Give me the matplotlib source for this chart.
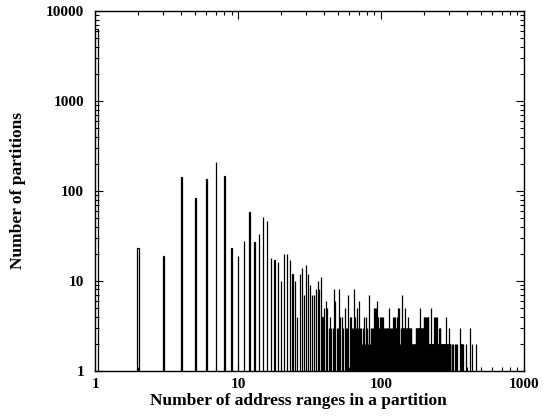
import matplotlib.pyplot as plt
import numpy as np
from matplotlib.ticker import NullFormatter, LogLocator

# number of partitions for each count of address ranges (1..306)
counts = [
    6300, 23, 19, 144, 83, 135, 210, 146, 23, 19,   # 1-10
    28, 58, 27, 33, 51, 46, 18, 17, 16, 10,         # 11-20
    20, 20, 17, 12, 10, 4, 12, 14, 7, 15,           # 21-30
    12, 9, 7, 7, 8, 10, 8, 11, 4, 5,                # 31-40
    6, 5, 3, 4, 3, 3, 8, 6, 3, 3,                   # 41-50
    8, 4, 4, 3, 1, 5, 3, 3, 7, 1,                   # 51-60
    4, 4, 3, 3, 8, 4, 3, 5, 3, 6,                   # 61-70
    3, 1, 3, 2, 3, 4, 2, 3, 4, 3,                   # 71-80
    2, 7, 3, 2, 3, 3, 2, 3, 5, 3,                   # 81-90
    5, 5, 3, 6, 4, 3, 3, 4, 3, 4,                   # 91-100
    4, 3, 3, 4, 3, 2, 3, 3, 2, 3,                   # 101-110
    3, 3, 5, 2, 3, 2, 3, 2, 3, 2,                   # 111-120
    4, 3, 3, 4, 3, 4, 3, 3, 4, 3,                   # 121-130
    5, 3, 5, 3, 2, 1, 1, 3, 2, 3,                   # 131-140
    7, 3, 3, 2, 3, 3, 3, 5, 3, 2,                   # 141-150
    3, 3, 2, 3, 4, 3, 2, 3, 3, 2,                   # 151-160
    3, 2, 3, 2, 2, 2, 1, 2, 2, 2,                   # 161-170
    2, 1, 2, 2, 2, 3, 3, 2, 3, 3,                   # 171-180
    2, 3, 3, 2, 3, 3, 3, 5, 3, 3,                   # 181-190
    2, 3, 3, 1, 1, 3, 2, 3, 3, 4,                   # 191-200
    4, 2, 4, 2, 2, 4, 2, 2, 4, 2,                   # 201-210
    2, 4, 2, 1, 4, 2, 2, 2, 2, 2,                   # 211-220
    2, 1, 2, 2, 5, 2, 2, 2, 1, 2,                   # 221-230
    2, 2, 2, 4, 2, 2, 1, 4, 2, 2,                   # 231-240
    4, 2, 2, 1, 4, 2, 2, 2, 1, 2,                   # 241-250
    2, 2, 2, 3, 2, 2, 3, 2, 1, 3,                   # 251-260
    2, 2, 1, 1, 2, 2, 2, 1, 2, 2,                   # 261-270
    1, 2, 2, 2, 1, 2, 2, 2, 2, 1,                   # 271-280
    2, 2, 4, 2, 2, 1, 2, 2, 2, 1,                   # 281-290
    2, 2, 2, 1, 2, 2, 2, 1, 2, 3,                   # 291-300
    2, 2, 1, 2, 2, 2,                               # 301-306
]

# sparse tail
tail_x = [312, 320, 328, 334, 341, 356, 366, 375, 396, 417, 435, 464]
tail_counts = [2, 2, 2, 2, 2, 3, 2, 2, 2, 3, 2, 2]

xs = list(range(1, len(counts) + 1)) + tail_x
ys = counts + tail_counts

tick_font = {'family': 'Liberation Serif', 'weight': 'bold', 'size': 11}
label_font = {'family': 'Liberation Serif', 'weight': 'bold', 'size': 12.5}

fig = plt.figure(figsize=(5.44, 4.19), dpi=100)
ax = fig.add_axes([0.175, 0.1153, 0.788, 0.8584])

ax.set_xscale('log')
ax.set_yscale('log')
ax.bar(xs, ys, width=0.08, color='white', edgecolor='black', linewidth=0.9)

ax.set_xlim(1, 1000)
ax.set_ylim(1, 10000)

ax.set_xticks([1, 10, 100, 1000])
ax.set_xticklabels(['1', '10', '100', '1000'], fontdict=tick_font)
ax.set_yticks([1, 10, 100, 1000, 10000])
ax.set_yticklabels(['1', '10', '100', '1000', '10000'], fontdict=tick_font)
ax.xaxis.set_minor_locator(LogLocator(base=10, subs=np.arange(2, 10)))
ax.yaxis.set_minor_locator(LogLocator(base=10, subs=np.arange(2, 10)))
ax.xaxis.set_minor_formatter(NullFormatter())
ax.yaxis.set_minor_formatter(NullFormatter())

ax.tick_params(which='both', direction='in', top=True, right=True, width=0.8)
ax.tick_params(which='major', length=6)
ax.tick_params(which='minor', length=3)
ax.tick_params(axis='x', pad=5)
ax.tick_params(axis='y', pad=8)

for s in ax.spines.values():
    s.set_linewidth(1.0)

ax.set_xlabel('Number of address ranges in a partition', fontdict=label_font, labelpad=3)
ax.xaxis.set_label_coords(0.475, -0.063)
ax.set_ylabel('Number of partitions', fontdict=label_font, labelpad=14)

fig.savefig('out.png', dpi=100)
